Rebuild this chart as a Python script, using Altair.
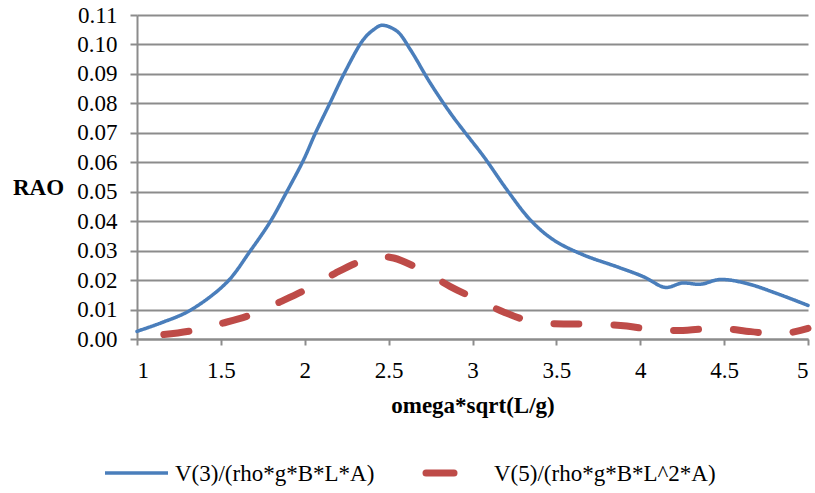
import altair as alt
import pandas as pd

# Series 1: V(3)/(rho*g*B*L*A)  (blue, solid)
x_v3 = [1.0, 1.15, 1.316, 1.535, 1.674, 1.794, 1.893, 1.993, 2.062, 2.152, 2.241,
        2.35, 2.41, 2.46, 2.55, 2.63, 2.748, 2.868, 2.95, 3.066, 3.206, 3.345, 3.484,
        3.663, 3.862, 4.021, 4.15, 4.25, 4.359, 4.478, 4.637, 4.816, 5.0]
y_v3 = [0.0026, 0.0056, 0.0097, 0.0192, 0.0298, 0.0398, 0.0500, 0.0608, 0.0697, 0.0803, 0.0908,
        0.1017, 0.1050, 0.1065, 0.1045, 0.0982, 0.0869, 0.0767, 0.0705, 0.0620, 0.0506, 0.0404, 0.0336,
        0.0285, 0.0245, 0.0211, 0.0175, 0.0190, 0.0186, 0.0202, 0.0188, 0.0154, 0.0114]

# Series 2: V(5)/(rho*g*B*L^2*A)  (red, dashed)
x_v5 = [1.16, 1.326, 1.505, 1.674, 1.853, 2.002, 2.181, 2.33, 2.45, 2.53, 2.69,
        2.868, 3.0, 3.185, 3.355, 3.543, 3.72, 3.92, 4.09, 4.28, 4.46, 4.66, 4.83, 5.0]
y_v5 = [0.0015, 0.0028, 0.0053, 0.0081, 0.0126, 0.0166, 0.0223, 0.0263, 0.0279, 0.0275, 0.0236,
        0.0178, 0.0141, 0.0092, 0.0059, 0.0051, 0.0051, 0.0044, 0.0030, 0.0030, 0.0037, 0.0025, 0.0016, 0.0036]

series_names = ["V(3)/(rho*g*B*L*A)", "V(5)/(rho*g*B*L^2*A)"]
series_colors = ["#4A7EBB", "#BE4B48"]
x_ticks = [1, 1.5, 2, 2.5, 3, 3.5, 4, 4.5, 5]
y_ticks = [0.0, 0.01, 0.02, 0.03, 0.04, 0.05, 0.06, 0.07, 0.08, 0.09, 0.10, 0.11]

df = pd.concat([
    pd.DataFrame({"x": x_v3, "y": y_v3, "series": series_names[0], "order": range(len(x_v3))}),
    pd.DataFrame({"x": x_v5, "y": y_v5, "series": series_names[1], "order": range(len(x_v5))}),
], ignore_index=True)

FONT = "Liberation Serif"
GRID = "#8c8c8c"
FS = 23

lines = alt.Chart(df).mark_line(interpolate="catmull-rom", strokeCap="round").encode(
    x=alt.X("x:Q", scale=alt.Scale(domain=[1, 5], nice=False, zero=False),
            axis=alt.Axis(values=x_ticks, format=".1~f", title="omega*sqrt(L/g)",
                          grid=False, tickSize=6, labelPadding=14,
                          titleY=73, titleBaseline="alphabetic")),
    y=alt.Y("y:Q", scale=alt.Scale(domain=[0, 0.11], nice=False),
            axis=alt.Axis(values=y_ticks, format=".2f", title="RAO", grid=True,
                          tickSize=7, labelPadding=13, titleAngle=0, titleX=-99,
                          titleY=172, titleAlign="center", titleBaseline="middle")),
    color=alt.Color("series:N", scale=alt.Scale(domain=series_names, range=series_colors), legend=None),
    strokeDash=alt.StrokeDash("series:N", scale=alt.Scale(domain=series_names, range=[[1, 0], [25, 35]]), legend=None),
    strokeWidth=alt.StrokeWidth("series:N", scale=alt.Scale(type="ordinal", domain=series_names, range=[3.5, 7]), legend=None),
    order="order:Q",
)

# legend (drawn below the plot, Excel style)
leg_df0 = pd.DataFrame({"label": [series_names[0]]})
leg_df1 = pd.DataFrame({"label": [series_names[1]]})
leg_sym0 = alt.Chart(leg_df0).mark_rule(color=series_colors[0], strokeWidth=3.5).encode(
    x=alt.value(-32), x2=alt.value(31), y=alt.value(458))
leg_sym1 = alt.Chart(leg_df1).mark_rule(color=series_colors[1], strokeWidth=7, strokeCap="round").encode(
    x=alt.value(289), x2=alt.value(317), y=alt.value(458))
leg_txt0 = alt.Chart(leg_df0).mark_text(font=FONT, fontSize=FS, align="left", baseline="middle", color="black").encode(
    text="label:N", x=alt.value(38), y=alt.value(459))
leg_txt1 = alt.Chart(leg_df1).mark_text(font=FONT, fontSize=FS, align="left", baseline="middle", color="black").encode(
    text="label:N", x=alt.value(357), y=alt.value(459))

chart = alt.layer(lines, leg_sym0, leg_sym1, leg_txt0, leg_txt1).properties(
    width=671, height=324,
    autosize=alt.AutoSizeParams(type="none"),
    padding={"left": 137, "top": 15, "right": 7, "bottom": 154},
).configure_view(stroke=None).configure_axis(
    labelFont=FONT, labelFontSize=FS, labelColor="black",
    titleFont=FONT, titleFontSize=FS, titleFontWeight="bold", titleColor="black",
    domainColor=GRID, domainWidth=2, tickColor=GRID, tickWidth=2,
    gridColor=GRID, gridWidth=2,
)

chart.save("out.html", embed_options={"renderer": "svg", "actions": False})
